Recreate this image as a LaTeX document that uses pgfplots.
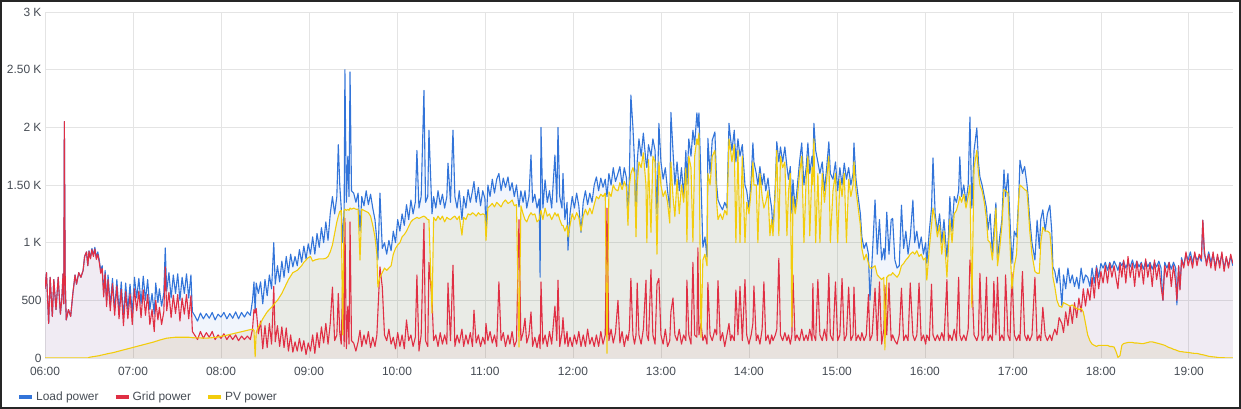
\documentclass[border=0pt]{standalone}
\usepackage{fontspec}
\setmainfont{Liberation Sans}
\usepackage{pgfplots}
\usepackage{pgfplotstable}
\pgfplotsset{compat=1.18}
\definecolor{cload}{HTML}{3274D9}
\definecolor{cgrid}{HTML}{E02F44}
\definecolor{cpv}{HTML}{F2CC0C}
\definecolor{ctext}{HTML}{464C54}
\definecolor{cgridline}{HTML}{E4E4E4}
\pgfplotstableread{
t load grid pv
0 600 600 0
1 740 740 0
2.5 300 300 0
3.5 700 700 0
5 360 360 0
6 680 680 0
7.5 420 420 0
9 700 700 0
10.5 380 380 0
11.5 520 520 0
12.3 730 730 0
12.8 470 470 0
13.2 2050 2050 0
13.8 650 650 0
14.5 330 330 0
16 420 420 0
17.5 360 360 0
19 560 560 0
20.5 720 720 0
21.5 640 640 0
23 740 740 0
24.5 700 700 0
26 760 760 0
27 880 880 0
28.3 920 920 0
29.2 800 800 0
30 930 925 5
31 870 860 8
32 950 940 10
33 890 880 12
34 960 945 14
35 870 855 16
36 920 900 18
37 850 830 20
38 760 735 24
39 800 775 26
40 560 530 30
41 760 730 32
42 480 445 35
43 720 680 38
44.5 450 410 42
46 690 645 45
47.5 420 370 50
49 680 625 55
50.5 400 340 60
52 660 595 65
53.5 350 280 70
55 650 575 75
56.5 420 340 80
58 640 555 85
59.5 380 290 90
61 700 600 95
62.5 520 410 100
64 690 580 105
65.5 470 350 110
67 710 590 115
68.5 500 370 120
70 680 550 125
71.5 420 290 130
73 560 420 135
74.5 380 230 140
75.5 650 500 145
77 480 330 150
78 600 440 155
79.5 450 290 160
81 560 400 165
82 955 790 168
83 580 410 172
84.5 740 570 174
86 520 350 176
87.5 720 545 178
89 560 385 180
90.5 730 550 180
92 500 320 180
93.5 700 520 180
95 560 380 180
96.5 730 550 180
98 520 340 180
99.5 720 540 178
100.5 400 230 176
102 370 200 175
104 320 160 175
106 390 230 174
108 340 170 173
110 385 220 172
112 345 180 174
114 395 230 176
116 330 160 178
118 380 200 182
120 355 170 188
122 395 210 192
124 340 160 198
126 385 200 204
128 345 160 210
130 400 200 216
132 340 150 222
134 395 190 228
136 355 160 234
138 400 190 240
140 370 160 246
141.5 500 250 250
142.5 660 420 240
143.3 400 390 10
144 650 430 220
145.5 560 210 270
147 660 320 300
148.5 470 80 340
150 680 280 370
151.5 540 90 400
153 720 300 420
154.5 600 120 440
156 1000 620 460
157 640 140 480
158.5 800 280 500
160 660 100 530
161.5 840 270 560
163 700 90 600
164.5 880 260 640
166 740 60 680
167.5 900 200 710
169 790 50 740
170.5 880 140 750
172 800 60 760
173.5 940 170 780
175 830 60 800
176.5 970 150 830
178 860 30 850
179.5 990 130 870
181 900 60 880
182.5 1050 200 840
184 900 40 850
185.5 1080 220 855
187 960 90 860
188.5 1130 270 860
190 1000 130 860
191.5 1180 300 865
193 1020 120 880
194.5 1250 300 920
196 1400 615 980
197.5 1250 150 1080
199 1400 200 1180
200 1850 560 1230
201 1500 220 1270
202 1300 120 1280
203 1000 675 200
204 1300 100 1280
204.5 2500 1210 1290
205.5 1350 80 1280
206.5 1750 450 1290
207.3 1400 120 1280
208 2480 1180 1300
209 1450 150 1290
210.5 1430 130 1300
212 1350 60 1290
213.5 1430 140 1290
214.8 1100 240 850
216 1400 100 1290
217.5 1320 200 1280
219 1450 120 1270
220.5 1330 230 1260
222 1420 90 1230
223.5 1300 180 1150
225 1200 100 1050
226.3 1020 200 900
227 850 400 615
228.4 1430 790 700
230 950 615 740
231.5 1000 200 780
233 900 150 760
234.5 1020 250 780
236 930 120 800
237.5 1100 180 900
239 1000 80 950
240.5 1200 220 980
242 1100 100 1000
243.5 1250 200 1050
245 1150 80 1070
246.5 1330 330 1100
248 1200 150 1140
249.5 1370 200 1180
251 1250 100 1200
252.5 1350 180 1210
253.6 1800 720 1220
255 1300 60 1210
256.5 1400 200 1220
258.4 2320 1170 1230
259.5 1350 150 1220
261 1400 100 1200
261.8 1975 830 1200
263.9 1250 500 390
265 1400 150 1220
266.5 1300 200 1190
268 1450 100 1230
269.5 1330 220 1200
271 1420 120 1230
272.5 1300 200 1180
274 1400 120 1220
274.8 1690 650 1210
276.5 1350 150 1200
278.2 1975 805 1220
279.5 1400 100 1230
281 1300 200 1200
282.5 1450 130 1230
284.3 1200 250 1065
285.5 1400 100 1220
287 1300 200 1200
288.5 1460 120 1250
290 1350 220 1240
291.5 1450 100 1260
292.5 1530 415 1250
294 1350 130 1230
295.5 1480 200 1260
297 1320 100 1240
298.5 1450 180 1250
300 1380 120 1240
300.7 1100 300 1020
302 1500 150 1300
303.5 1400 230 1320
305 1550 130 1340
306.5 1430 200 1310
308 1550 100 1350
309.5 1600 660 1330
311 1450 150 1310
312.5 1560 220 1350
314 1480 100 1370
315.7 1570 200 1340
317 1450 120 1350
318.5 1520 230 1370
320 1400 100 1320
321.5 1500 150 1330
323.2 1310 1200 95
324.5 1450 150 1320
326 1350 220 1250
327.3 1450 345 1200
328.5 1300 130 1180
330 1400 200 1230
331.4 1760 400 1260
332.5 1350 100 1240
334 1420 180 1250
335.5 1300 90 1180
337 1380 200 1200
337.6 700 80 1250
338.2 2000 660 1280
339.5 1300 120 1200
341 1545 200 1300
342.5 1350 100 1230
344 1450 230 1250
345.5 1300 120 1200
347.7 1760 450 1260
349 1350 150 1230
349.8 2000 675 1250
351 1400 100 1200
352.5 1300 220 1150
353.2 1600 350 1150
354.5 1200 120 1100
356 1350 230 1150
356.6 935 100 1050
358 1250 180 1150
359.5 1400 100 1250
361 1300 200 1200
362.5 1430 120 1260
364 1320 230 1220
365.5 1090 100 1100
367 1350 200 1230
368.5 1450 100 1290
370 1330 250 1240
371.5 1430 120 1300
373 1350 180 1250
374.5 1500 100 1330
376 1570 200 1400
377.5 1450 100 1380
379 1560 230 1420
380.5 1480 120 1400
382 1550 200 1430
383.2 1400 1300 40
384.5 1600 150 1440
386 1500 250 1400
387.5 1650 130 1500
389 1530 220 1460
390.7 1600 500 1450
392 1660 130 1520
393.5 1500 230 1460
395 1650 100 1530
396.5 1560 200 1480
397.5 1210 150 1150
398.5 1600 250 1500
399.5 2280 690 1600
400.9 2000 200 1650
402 1700 120 1600
403 1135 200 1050
403.8 1700 650 1500
405 1900 200 1700
406.5 1750 120 1650
408 1950 250 1780
409.8 1700 675 1500
410.4 1650 200 1000
411.5 1850 150 1720
413.2 1750 765 1090
414.5 1900 200 1750
416 1800 120 1700
417.3 1250 640 900
418.6 2035 690 1700
420 1700 200 1500
421.5 1550 120 1400
423 1650 250 1450
424.5 1450 100 1350
426 1300 150 1170
426.8 2130 400 1700
428.2 1800 520 1400
429.5 1500 200 1225
431 1700 150 1550
432.5 1450 250 1250
434 1650 120 1500
435.5 1400 200 1350
437 1800 150 1650
437.7 1500 675 1005
439 1900 200 1750
440.5 1750 120 1650
441.8 1975 830 1005
443 1850 200 1750
444.5 2125 180 1900
445.2 2000 955 1850
445.9 2125 200 1950
447.3 1545 300 180
448.6 960 150 850
450 1050 200 900
451.4 875 120 800
452 1905 655 1600
453.5 1600 200 1500
455 1890 150 1750
456.8 1960 250 1800
458 1500 200 1350
458.9 1370 670 1200
460.5 1320 150 1250
462 1285 220 1200
463.5 1350 100 1280
465 1300 200 1240
466.4 2035 300 1900
467.5 1900 150 1800
468.4 1800 200 1700
470 1975 150 1850
471.1 1700 590 1000
472.5 1900 200 1800
473.9 1750 620 1000
475.5 1850 150 1750
477.3 1500 680 1000
478.5 1450 200 1350
480 1300 120 1250
481.5 1545 200 1450
482.7 1865 300 1700
483.4 1700 625 1500
485 1600 150 1500
486.1 1500 200 1000
487.5 1660 120 1600
489 1500 250 1400
490.2 1600 660 1300
491.5 1450 150 1350
493 1560 200 1450
494.3 1400 120 1060
495.5 1300 200 1200
496.4 1110 150 1060
498 1500 200 1450
499 1875 250 1800
500.4 1700 865 1060
501.5 1830 200 1750
503 1700 150 1650
504.5 1830 220 1700
505.9 1660 150 1060
507 1550 200 1450
508.2 1660 120 1600
509.3 1255 200 270
510 1545 720 1400
511.5 1300 150 1250
512.7 1450 200 1350
514.5 1700 150 1600
516 1865 250 1750
517.5 1500 150 1000
519 1650 200 1550
520.2 1865 150 1750
521.5 1600 250 1060
523 1750 150 1650
523.6 1650 645 1500
524.3 2035 200 1900
525.5 1800 150 1000
527 1700 680 1600
528.4 1600 200 1000
530 1700 150 1600
531.5 1450 250 1350
533 1650 150 1550
534.5 1875 735 1750
535.5 1600 200 1000
537.3 1550 150 1450
539 1700 660 1600
540.5 1450 150 1000
542 1650 200 1550
543.5 1500 690 1400
545 1690 150 1600
546.5 1550 200 1000
548 1650 615 1550
549.5 1500 150 1400
551 1600 200 1500
551.6 1865 615 1700
553 1550 150 1450
554.5 1395 200 1300
556 1250 150 1150
557 1050 220 950
558.5 950 150 850
560 1000 200 900
561.5 900 550 820
562.5 500 150 780
564 850 200 780
566 1370 605 800
567.5 900 150 720
569 1200 660 700
570.5 850 120 680
572 950 250 700
572.7 850 630 70
574 1265 200 700
575.5 900 650 720
577 1200 150 720
578 1210 200 740
579.5 850 150 720
581 780 120 700
582.5 800 200 730
584 1325 605 800
585.5 950 150 820
587 1100 200 850
588.5 900 150 870
590 1050 650 900
591.8 1370 200 920
593 1000 150 900
594.5 1100 200 930
596 950 650 880
597.5 1050 150 900
599 900 200 850
600.5 1000 120 870
601.3 820 200 675
603 1100 150 950
604.5 1300 640 1150
605.5 1735 200 1300
607 1250 150 1200
608.5 1100 200 1050
610 1250 150 1150
611.5 1000 220 900
613 1200 150 1100
615 875 680 700
616 1050 150 950
617 1400 200 1200
618.5 1100 150 1000
620 1400 250 1250
621.5 1350 150 1280
623 1450 700 1350
623.8 1745 200 1400
625 1400 150 1350
626.5 1500 200 1420
628 1350 150 1300
629.5 1500 250 1400
630.7 2090 850 1500
632 1300 680 440
633.5 1800 200 1650
635.4 1995 150 1800
636.5 1700 200 1600
637.5 1570 735 1500
639 1500 150 1450
640.5 1400 200 1350
642 1300 700 1200
643 1110 150 1020
644.5 1250 200 1000
646 900 150 850
647 1100 665 1000
648.4 1345 200 1300
649.5 850 700 800
651 1050 150 950
652.5 1200 200 1150
653.9 1630 150 1460
655 1400 720 1450
656.6 1600 200 1430
658 1200 150 1000
659.3 820 740 600
661 1100 200 800
662.5 1050 150 900
664 1400 200 1400
664.8 1715 150 1500
666.5 1600 750 1480
668 1660 200 1460
669.5 1515 150 1450
670.2 1430 200 1350
671.5 1200 150 1100
673 1000 200 900
675 850 700 750
676.5 1195 150 735
678 950 200 735
679 1200 150 1000
680.4 1285 440 1135
682 1100 200 1100
683.5 1250 150 1100
685.2 1325 200 1085
686.5 1100 150 900
687.3 790 200 700
688.6 750 250 615
690 650 200 500
691.5 780 350 450
693.4 450 300 440
694.5 720 220 480
696 600 400 470
697.5 780 280 460
699 650 450 450
700.5 720 300 460
702 620 480 440
703.5 700 350 430
705 600 520 420
706.5 780 400 430
708 650 600 400
709.5 720 450 300
711 700 600 200
712.5 620 500 150
714 780 700 120
715.5 650 520 110
717 800 780 100
718.5 700 600 110
720 820 750 110
721.5 780 650 110
723 830 800 110
724.5 760 650 110
726 830 820 100
727.5 780 700 100
729 840 800 95
730.5 800 680 50
731.6 760 600 5
733 830 820 20
734.3 800 700 110
735.5 840 850 125
737 780 650 130
738.5 830 880 135
740 790 700 135
741.5 850 820 135
743 780 620 130
744.5 840 840 130
746 790 700 128
747.5 830 820 125
749 770 640 125
750.5 840 860 130
752 790 700 135
753.5 830 820 140
755 770 620 140
756.5 830 850 135
758 790 680 130
759.5 840 810 125
761 780 620 120
762.3 500 500 115
763.5 830 800 110
765 780 700 100
766.5 830 830 90
768 770 620 85
769.5 830 800 75
771 780 650 70
771.8 460 500 65
773 800 800 60
773.9 600 590 55
775 870 850 55
776.5 800 780 52
778 900 920 50
779.5 850 800 48
781 920 880 45
782.5 830 780 42
784 900 920 40
785.5 850 800 40
787 880 900 35
788.5 840 860 30
789.5 1195 1195 28
790.5 900 940 25
792 830 800 20
793.5 920 900 15
795 830 780 12
796.5 900 920 10
798 800 760 8
799.5 880 900 5
801 820 780 3
802.5 900 920 2
804 780 750 2
805.5 870 880 1
807 800 780 1
808.5 880 900 0
810 800 820 0
}\datatable

\begin{document}
\begin{tikzpicture}
\useasboundingbox (0,0) rectangle (1241bp,409bp);
\draw[line width=2bp, black!85] (1bp,1bp) rectangle (1240bp,408bp);
\begin{axis}[
  at={(45bp,51bp)}, anchor=south west, scale only axis,
  width=1188bp, height=346bp,
  xmin=0, xmax=810, ymin=0, ymax=3000,
  xtick={0,60,120,180,240,300,360,420,480,540,600,660,720,780},
  xticklabels={06:00,07:00,08:00,09:00,10:00,11:00,12:00,13:00,14:00,15:00,16:00,17:00,18:00,19:00},
  ytick={0,500,1000,1500,2000,2500,3000},
  yticklabels={0,500,1 K,1.50 K,2 K,2.50 K,3 K},
  grid=major, major grid style={cgridline, line width=0.8bp},
  axis line style={draw=none}, tick style={draw=none},
  tick label style={font=\fontsize{12}{14}\selectfont, text=ctext},
  xticklabel style={yshift=-6bp},
  no markers,
  every axis plot/.append style={line width=1.1bp, line join=round},
  legend columns=3,
  legend style={at={(axis description cs:-0.0236,-0.1127)}, anchor=west,
    draw=none, fill=none, inner sep=0pt,
    font=\fontsize{12}{14}\selectfont, text=ctext,
    /tikz/every even column/.append style={column sep=13bp}},
  legend image code/.code={\draw[#1, line width=4bp, line cap=butt] (0bp,0bp) -- (13bp,0bp);},
]
\addplot[forget plot, draw=none, fill=cload, fill opacity=0.07] table[x=t, y=load] {\datatable} \closedcycle;
\addplot[forget plot, draw=none, fill=cgrid, fill opacity=0.05] table[x=t, y=grid] {\datatable} \closedcycle;
\addplot[forget plot, draw=none, fill=black!35!cpv, fill opacity=0.09] table[x=t, y=pv] {\datatable} \closedcycle;
\addplot[cload] table[x=t, y=load] {\datatable};
\addlegendentry{Load power}
\addplot[cgrid] table[x=t, y=grid] {\datatable};
\addlegendentry{Grid power}
\addplot[cpv] table[x=t, y=pv] {\datatable};
\addlegendentry{PV power}
\end{axis}
\end{tikzpicture}
\end{document}
